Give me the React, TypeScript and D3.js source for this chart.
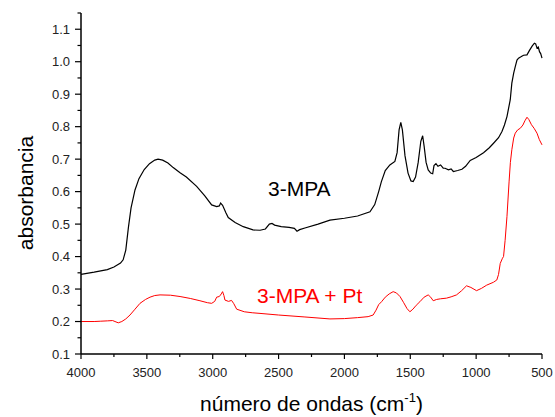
import React from "react";
import * as d3 from "d3";

const blackWn = [4000,3900,3800,3750,3700,3680,3660,3640,3620,3590,3560,3520,3480,3440,3415,3380,3340,3300,3248,3200,3122,3060,3008,2970,2950,2940,2925,2900,2882,2830,2768,2694,2640,2600,2570,2550,2530,2480,2420,2380,2360,2340,2300,2200,2110,2000,1900,1806,1770,1740,1720,1690,1655,1617,1600,1585,1572,1560,1540,1517,1495,1478,1460,1440,1420,1406,1395,1380,1364,1345,1330,1320,1305,1290,1270,1250,1236,1210,1190,1173,1140,1108,1080,1045,1000,944,900,868,830,804,785,766,741,729,715,703,690,678,660,640,614,595,575,558,548,538,528,519,510,500];
const blackAbs = [0.345,0.352,0.36,0.368,0.38,0.39,0.42,0.49,0.55,0.605,0.64,0.668,0.686,0.697,0.7,0.697,0.688,0.674,0.658,0.645,0.616,0.587,0.559,0.554,0.556,0.565,0.558,0.535,0.52,0.505,0.492,0.482,0.481,0.485,0.5,0.502,0.497,0.492,0.49,0.487,0.478,0.483,0.488,0.5,0.512,0.518,0.525,0.538,0.56,0.6,0.63,0.665,0.682,0.693,0.72,0.79,0.813,0.79,0.71,0.657,0.633,0.631,0.645,0.69,0.755,0.772,0.74,0.69,0.667,0.657,0.655,0.68,0.686,0.678,0.682,0.672,0.672,0.667,0.67,0.662,0.665,0.669,0.678,0.696,0.705,0.72,0.735,0.749,0.766,0.785,0.805,0.831,0.883,0.934,0.965,0.985,1.005,1.011,1.015,1.02,1.021,1.035,1.048,1.057,1.055,1.042,1.045,1.031,1.025,1.011];

const redWn = [4000,3900,3850,3800,3760,3742,3717,3690,3660,3628,3590,3552,3510,3476,3440,3400,3320,3248,3170,3097,3040,3008,2985,2970,2950,2935,2925,2915,2907,2880,2857,2840,2818,2760,2700,2641,2500,2300,2110,2000,1900,1820,1782,1760,1740,1718,1690,1660,1630,1605,1578,1550,1525,1503,1480,1455,1427,1395,1364,1345,1326,1300,1270,1225,1190,1149,1110,1073,1040,997,960,920,868,843,830,817,800,792,780,766,750,740,729,715,703,685,665,645,630,614,600,580,560,538,520,500];
const redAbs = [0.2,0.2,0.201,0.202,0.203,0.2,0.196,0.2,0.208,0.22,0.238,0.256,0.268,0.275,0.28,0.282,0.281,0.277,0.271,0.264,0.258,0.256,0.262,0.275,0.277,0.285,0.292,0.28,0.266,0.262,0.265,0.255,0.238,0.23,0.227,0.225,0.22,0.214,0.208,0.209,0.212,0.215,0.22,0.235,0.252,0.261,0.275,0.285,0.292,0.288,0.277,0.258,0.24,0.23,0.238,0.25,0.261,0.275,0.282,0.275,0.264,0.268,0.27,0.272,0.276,0.282,0.295,0.31,0.305,0.295,0.302,0.312,0.321,0.328,0.345,0.379,0.395,0.4,0.45,0.523,0.63,0.69,0.729,0.765,0.78,0.79,0.795,0.805,0.818,0.829,0.822,0.806,0.795,0.78,0.76,0.744];

const xMajorTicks = [4000,3500,3000,2500,2000,1500,1000,500];
const yMajorTicks = [0.1,0.2,0.3,0.4,0.5,0.6,0.7,0.8,0.9,1.0,1.1];
const seriesLabels = ["3-MPA", "3-MPA + Pt"];

const FONT = "'Liberation Sans', Arial, sans-serif";

export default function App() {
  const W = 555, H = 417;
  const x = d3.scaleLinear().domain([4000, 500]).range([81, 542]);
  const y = d3.scaleLinear().domain([0.1, 1.15]).range([354, 13]);
  const line = d3.line<[number, number]>().x(d => x(d[0])).y(d => y(d[1]));
  const black = blackWn.map((w, i) => [w, blackAbs[i]] as [number, number]);
  const red = redWn.map((w, i) => [w, redAbs[i]] as [number, number]);
  const xMinor = d3.range(3750, 500, -500);
  const yMinor = d3.range(0, 11).map(i => 0.15 + i * 0.1);
  const [x0, x1] = x.range();
  const [yb, yt] = y.range();
  return (
    <svg width={W} height={H} style={{ position: "absolute", left: 0, top: 0 }} fontFamily={FONT}>
      <rect width={W} height={H} fill="#fff" />
      <path d={line(black) || ""} fill="none" stroke="#000" strokeWidth={1.2} />
      <path d={line(red) || ""} fill="none" stroke="#ff0000" strokeWidth={1} />
      {/* axes */}
      <line x1={x0} x2={x0} y1={yb} y2={yt} stroke="#000" strokeWidth={1.5} />
      <line x1={x0} x2={x1} y1={yb} y2={yb} stroke="#000" strokeWidth={1.5} />
      {yMajorTicks.map(v => (
        <g key={"ym" + v}>
          <line x1={x0 - 6} x2={x0} y1={y(v)} y2={y(v)} stroke="#000" strokeWidth={1.2} />
          <text x={x0 - 11} y={y(v)} dy="0.35em" textAnchor="end" fontSize={13} fill="#222">{v.toFixed(1)}</text>
        </g>
      ))}
      {yMinor.map(v => (
        <line key={"yn" + v} x1={x0 - 3.5} x2={x0} y1={y(v)} y2={y(v)} stroke="#000" strokeWidth={1.2} />
      ))}
      {xMajorTicks.map(v => (
        <g key={"xm" + v}>
          <line x1={x(v)} x2={x(v)} y1={yb} y2={yb + 5} stroke="#000" strokeWidth={1.2} />
          <text x={x(v)} y={377} textAnchor="middle" fontSize={13} fill="#222">{v}</text>
        </g>
      ))}
      {xMinor.map(v => (
        <line key={"xn" + v} x1={x(v)} x2={x(v)} y1={yb} y2={yb + 3} stroke="#000" strokeWidth={1.2} />
      ))}
      <text x={x(2550) + 0} y={196} textAnchor="start" fontSize={21} fill="#000" dx={0} style={{}}>
        <tspan x={268}>{seriesLabels[0]}</tspan>
      </text>
      <text y={302.5} fontSize={21} fill="#ff0000">
        <tspan x={257}>{seriesLabels[1]}</tspan>
      </text>
      <text transform="translate(33,193) rotate(-90)" textAnchor="middle" fontSize={21} fill="#000">absorbancia</text>
      <text x={311.5} y={411} textAnchor="middle" fontSize={21} fill="#000">
        número de ondas (cm<tspan fontSize={13} dy={-9}>-1</tspan><tspan dy={9}>)</tspan>
      </text>
    </svg>
  );
}
